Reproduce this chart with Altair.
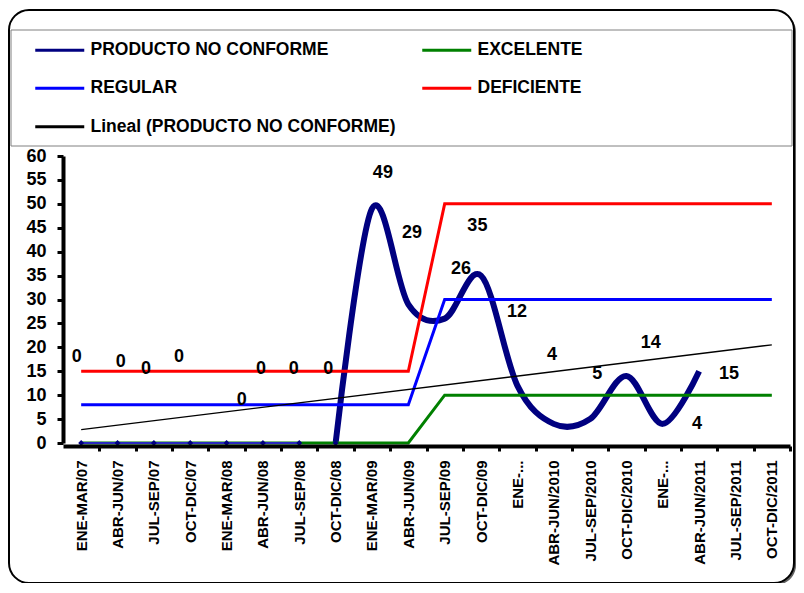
import json
import altair as alt
import pandas as pd

# ---------------- data ----------------
categories = ["ENE-MAR/07", "ABR-JUN/07", "JUL-SEP/07", "OCT-DIC/07", "ENE-MAR/08",
              "ABR-JUN/08", "JUL-SEP/08", "OCT-DIC/08", "ENE-MAR/09", "ABR-JUN/09",
              "JUL-SEP/09", "OCT-DIC/09", "ENE-...", "ABR-JUN/2010", "JUL-SEP/2010",
              "OCT-DIC/2010", "ENE-...", "ABR-JUN/2011", "JUL-SEP/2011", "OCT-DIC/2011"]
producto_no_conforme = [0, 0, 0, 0, 0, 0, 0, 0, 49, 29, 26, 35, 12, 4, 5, 14, 4, 15]
excelente = [0, 0, 0, 0, 0, 0, 0, 0, 0, 0, 10, 10, 10, 10, 10, 10, 10, 10, 10, 10]
regular = [8, 8, 8, 8, 8, 8, 8, 8, 8, 8, 30, 30, 30, 30, 30, 30, 30, 30, 30, 30]
deficiente = [15, 15, 15, 15, 15, 15, 15, 15, 15, 15, 50, 50, 50, 50, 50, 50, 50, 50, 50, 50]
# where the data labels sit (category position, value-axis height)
label_x = [-0.12, 1.09, 1.78, 2.69, 4.42, 4.95, 5.85, 6.8, 8.3, 9.1, 10.45, 10.9,
           11.99, 12.95, 14.2, 15.67, 16.94, 17.82]
label_y = [18, 17, 15.5, 18, 9, 15.5, 15.5, 15.5, 56.5, 44, 36.4, 45.4, 27.4, 18.4,
           14.4, 21, 4, 14.4]

PNC = "PRODUCTO NO CONFORME"
LIN = "Lineal (PRODUCTO NO CONFORME)"
# legend is filled column by column: left column first, then right column
series_names = [PNC, "REGULAR", LIN, "EXCELENTE", "DEFICIENTE"]
series_colors = ["#000080", "#0000FF", "#000000", "#008000", "#FF0000"]

# ---------------- tables ----------------
pnc_df = pd.DataFrame({"idx": list(range(len(producto_no_conforme))),
                       "value": producto_no_conforme,
                       "series": PNC})
ref_rows = []
for name, vals in [("EXCELENTE", excelente), ("REGULAR", regular), ("DEFICIENTE", deficiente)]:
    for i, v in enumerate(vals):
        ref_rows.append({"idx": i, "value": v, "series": name})
ref_df = pd.DataFrame(ref_rows)
lab_df = pd.DataFrame({"lx": label_x, "ly": label_y, "value": producto_no_conforme})

W, H = 727, 287
half = W / len(categories) / 2
FONT = "Arial"

x_scale = alt.Scale(domain=[-0.5, len(categories) - 0.5], nice=False, zero=False)
y_scale = alt.Scale(domain=[0, 60], nice=False)

x_axis = alt.Axis(values=list(range(len(categories))),
                  labelExpr=json.dumps(categories) + "[datum.value]",
                  labelAngle=-90, labelFontSize=15, labelPadding=9, offset=3,
                  tickSize=5, tickOffset=half, labelOffset=-half, title=None,
                  zindex=2)
y_axis = alt.Axis(values=list(range(0, 61, 5)), labelFontSize=18, tickSize=6,
                  labelPadding=11, title=None, zindex=2)

color = alt.Color("series:N",
                  scale=alt.Scale(domain=series_names, range=series_colors),
                  legend=alt.Legend(orient="none", legendX=-12, legendY=-115,
                                    columns=2, title=None,
                                    symbolType="M-4.9,0H4.9", symbolSize=100,
                                    symbolStrokeWidth=3, labelFont=FONT,
                                    labelFontSize=17.5, labelFontWeight="bold",
                                    labelColor="black", labelOffset=22,
                                    columnPadding=20, rowPadding=19.5,
                                    labelLimit=0, padding=0, zindex=2))

X = alt.X("idx:Q", scale=x_scale, axis=x_axis)
Y = alt.Y("value:Q", scale=y_scale, axis=y_axis)

one = alt.Data(values=[{"k": 1}])

shadow = alt.Chart(one).mark_rect(fill="#606060", cornerRadius=20).encode(
    x=alt.value(-52), x2=alt.value(733), y=alt.value(-144), y2=alt.value(429))
frame = alt.Chart(one).mark_rect(fill="white", stroke="black", strokeWidth=2,
                                 cornerRadius=20).encode(
    x=alt.value(-54), x2=alt.value(731), y=alt.value(-146), y2=alt.value(427))
legend_box = alt.Chart(one).mark_rect(fill=None, stroke="#808080", strokeWidth=1).encode(
    x=alt.value(-52), x2=alt.value(729), y=alt.value(-126), y2=alt.value(-10))

pnc_thin = alt.Chart(pnc_df).transform_filter("datum.idx <= 6").mark_line(
    strokeWidth=2, color="#2a2ac0").encode(x=X, y=Y)
pnc_pts = alt.Chart(pnc_df).transform_filter("datum.idx <= 7").mark_point(
    shape="diamond", filled=True, size=35, color="#000080", opacity=1).encode(x=X, y=Y)
pnc_thick = alt.Chart(pnc_df).transform_filter("datum.idx >= 7").mark_line(
    strokeWidth=6, interpolate="cardinal", strokeCap="butt").encode(x=X, y=Y, color=color)

refs = alt.Chart(ref_df).mark_line(strokeWidth=3).encode(
    x=X, y=Y, color=color, detail="series:N")

trend = alt.Chart(pnc_df).transform_regression(
    "idx", "value", method="linear", extent=[0, len(categories) - 1]
).transform_calculate(series=json.dumps(LIN)).mark_line(strokeWidth=1.3).encode(
    x=X, y=Y, color=color)

labels = alt.Chart(lab_df).mark_text(font=FONT, fontSize=18, fontWeight="bold",
                                     color="black").encode(
    x=alt.X("lx:Q", scale=x_scale, axis=x_axis),
    y=alt.Y("ly:Q", scale=y_scale, axis=y_axis),
    text="value:Q")

chart = alt.layer(shadow, frame, legend_box, pnc_thick, refs, pnc_thin, pnc_pts,
                  trend, labels).properties(
    width=W, height=H,
    autosize=alt.AutoSizeParams(type="none"),
    padding={"left": 55, "top": 148, "right": 6, "bottom": 140},
    background="white",
).configure_axis(
    grid=False, domainColor="black", domainWidth=4, tickColor="black", tickWidth=3,
    labelColor="black", labelFont=FONT, labelFontWeight="bold",
).configure_view(stroke=None)

chart.save("out.html", embed_options={"renderer": "svg", "actions": False})
